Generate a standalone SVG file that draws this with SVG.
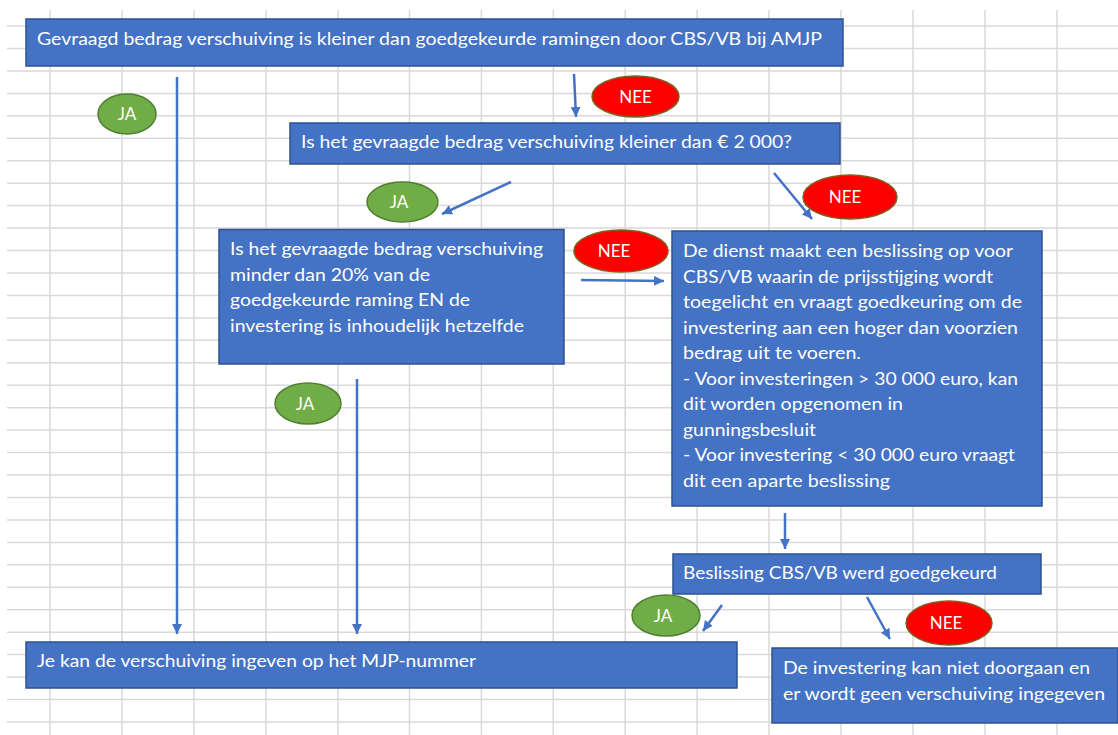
<svg xmlns="http://www.w3.org/2000/svg" width="1118" height="735" viewBox="0 0 1118 735">
<style>
.grid line{stroke:#d9d9d9;stroke-width:1.5}
.box{fill:#4472c4;stroke:#2f528f;stroke-width:1.5}
.t{font-family:Lato,"Open Sans","Liberation Sans",sans-serif;font-size:18px;fill:#ffffff}
.lbl{font-family:Lato,"Open Sans","Liberation Sans",sans-serif;font-size:17px;fill:#ffffff;text-anchor:middle}
.ja{fill:#70ad47;stroke:#507e32;stroke-width:1.5}
.nee{fill:#ff0000;stroke:#7f5f1f;stroke-width:1.5}
.conn path{fill:none;stroke:#4472c4;stroke-width:2.5}
</style>
<defs>
<marker id="ah" viewBox="0 0 10 10" refX="10" refY="5" markerWidth="10" markerHeight="10" markerUnits="userSpaceOnUse" orient="auto">
<path d="M0,0 L10,5 L0,10 z" fill="#4472c4"/>
</marker>
</defs>
<rect width="1118" height="735" fill="#ffffff"/>
<g class="grid">
<line x1="7" y1="26" x2="1118" y2="26"/><line x1="7" y1="48.5" x2="1118" y2="48.5"/><line x1="7" y1="71" x2="1118" y2="71"/><line x1="7" y1="93.4" x2="1118" y2="93.4"/><line x1="7" y1="115.8" x2="1118" y2="115.8"/><line x1="7" y1="138.3" x2="1118" y2="138.3"/><line x1="7" y1="160.7" x2="1118" y2="160.7"/><line x1="7" y1="183.2" x2="1118" y2="183.2"/><line x1="7" y1="205.6" x2="1118" y2="205.6"/><line x1="7" y1="228" x2="1118" y2="228"/><line x1="7" y1="250.5" x2="1118" y2="250.5"/><line x1="7" y1="273" x2="1118" y2="273"/><line x1="7" y1="295.4" x2="1118" y2="295.4"/><line x1="7" y1="317.9" x2="1118" y2="317.9"/><line x1="7" y1="340.3" x2="1118" y2="340.3"/><line x1="7" y1="362.8" x2="1118" y2="362.8"/><line x1="7" y1="385.2" x2="1118" y2="385.2"/><line x1="7" y1="407.7" x2="1118" y2="407.7"/><line x1="7" y1="430.1" x2="1118" y2="430.1"/><line x1="7" y1="452.6" x2="1118" y2="452.6"/><line x1="7" y1="475" x2="1118" y2="475"/><line x1="7" y1="497.5" x2="1118" y2="497.5"/><line x1="7" y1="519.9" x2="1118" y2="519.9"/><line x1="7" y1="542.4" x2="1118" y2="542.4"/><line x1="7" y1="564.8" x2="1118" y2="564.8"/><line x1="7" y1="587.3" x2="1118" y2="587.3"/><line x1="7" y1="609.7" x2="1118" y2="609.7"/><line x1="7" y1="632.2" x2="1118" y2="632.2"/><line x1="7" y1="654.6" x2="1118" y2="654.6"/><line x1="7" y1="677.1" x2="1118" y2="677.1"/><line x1="7" y1="699.5" x2="1118" y2="699.5"/><line x1="7" y1="722" x2="1118" y2="722"/>
<line x1="50" y1="10" x2="50" y2="735"/><line x1="122" y1="10" x2="122" y2="735"/><line x1="194" y1="10" x2="194" y2="735"/><line x1="266" y1="10" x2="266" y2="735"/><line x1="338" y1="10" x2="338" y2="735"/><line x1="409.5" y1="10" x2="409.5" y2="735"/><line x1="481.4" y1="10" x2="481.4" y2="735"/><line x1="553.3" y1="10" x2="553.3" y2="735"/><line x1="625.2" y1="10" x2="625.2" y2="735"/><line x1="697.1" y1="10" x2="697.1" y2="735"/><line x1="769" y1="10" x2="769" y2="735"/><line x1="841" y1="10" x2="841" y2="735"/><line x1="913" y1="10" x2="913" y2="735"/><line x1="985" y1="10" x2="985" y2="735"/><line x1="1057" y1="10" x2="1057" y2="735"/>
</g>
<g class="conn">
<path d="M177,77 L177,634" marker-end="url(#ah)"/>
<path d="M357,379 L357,634" marker-end="url(#ah)"/>
<path d="M574,74 L576,117" marker-end="url(#ah)"/>
<path d="M511,182 L442,214" marker-end="url(#ah)"/>
<path d="M774,173 L812,219" marker-end="url(#ah)"/>
<path d="M581,280 L664,281" marker-end="url(#ah)"/>
<path d="M785,513 L785,549" marker-end="url(#ah)"/>
<path d="M722,605 L703,631" marker-end="url(#ah)"/>
<path d="M867,597 L890,639" marker-end="url(#ah)"/>
</g>
<g id="n1"><rect class="box" x="26" y="19" width="817" height="47"/>
<text class="t" x="37" y="44.5" textLength="785" lengthAdjust="spacingAndGlyphs">Gevraagd bedrag verschuiving is kleiner dan goedgekeurde ramingen door CBS/VB bij AMJP</text></g>
<g id="n2"><rect class="box" x="290" y="123" width="550" height="41"/>
<text class="t" x="301" y="147.5" textLength="491" lengthAdjust="spacingAndGlyphs">Is het gevraagde bedrag verschuiving kleiner dan € 2 000?</text></g>
<g id="n3"><rect class="box" x="219" y="229.5" width="345" height="134.5"/>
<text class="t" x="230" y="255" textLength="313" lengthAdjust="spacingAndGlyphs">Is het gevraagde bedrag verschuiving</text>
<text class="t" x="230" y="280.5" textLength="200" lengthAdjust="spacingAndGlyphs">minder dan 20% van de</text>
<text class="t" x="230" y="306" textLength="240" lengthAdjust="spacingAndGlyphs">goedgekeurde raming EN de</text>
<text class="t" x="230" y="331.5" textLength="294" lengthAdjust="spacingAndGlyphs">investering is inhoudelijk hetzelfde</text></g>
<g id="n4"><rect class="box" x="672" y="231" width="370" height="275"/>
<text class="t" x="683" y="257" textLength="330" lengthAdjust="spacingAndGlyphs">De dienst maakt een beslissing op voor</text>
<text class="t" x="683" y="282.5" textLength="310" lengthAdjust="spacingAndGlyphs">CBS/VB waarin de prijsstijging wordt</text>
<text class="t" x="683" y="308" textLength="339" lengthAdjust="spacingAndGlyphs">toegelicht en vraagt goedkeuring om de</text>
<text class="t" x="683" y="333.5" textLength="335" lengthAdjust="spacingAndGlyphs">investering aan een hoger dan voorzien</text>
<text class="t" x="683" y="359" textLength="178" lengthAdjust="spacingAndGlyphs">bedrag uit te voeren.</text>
<text class="t" x="683" y="384.5" textLength="335" lengthAdjust="spacingAndGlyphs">- Voor investeringen &gt; 30 000 euro, kan</text>
<text class="t" x="683" y="410" textLength="220" lengthAdjust="spacingAndGlyphs">dit worden opgenomen in</text>
<text class="t" x="683" y="435.5" textLength="133" lengthAdjust="spacingAndGlyphs">gunningsbesluit</text>
<text class="t" x="683" y="461" textLength="332" lengthAdjust="spacingAndGlyphs">- Voor investering &lt; 30 000 euro vraagt</text>
<text class="t" x="683" y="486.5" textLength="207" lengthAdjust="spacingAndGlyphs">dit een aparte beslissing</text></g>
<g id="n5"><rect class="box" x="673" y="554" width="368" height="40"/>
<text class="t" x="683" y="578.5" textLength="314" lengthAdjust="spacingAndGlyphs">Beslissing CBS/VB werd goedgekeurd</text></g>
<g id="n6"><rect class="box" x="26" y="642" width="711" height="46"/>
<text class="t" x="37" y="667" textLength="439" lengthAdjust="spacingAndGlyphs">Je kan de verschuiving ingeven op het MJP-nummer</text></g>
<g id="n7"><rect class="box" x="772" y="648" width="346" height="75"/>
<text class="t" x="783" y="674" textLength="307" lengthAdjust="spacingAndGlyphs">De investering kan niet doorgaan en</text>
<text class="t" x="783" y="699.5" textLength="322" lengthAdjust="spacingAndGlyphs">er wordt geen verschuiving ingegeven</text></g>
<g id="ja1"><ellipse class="ja" cx="127" cy="114" rx="29" ry="20"/><text class="lbl" x="127" y="120">JA</text></g>
<g id="nee1"><ellipse class="nee" cx="635.5" cy="96.5" rx="43.5" ry="20.5"/><text class="lbl" x="635.5" y="102.5">NEE</text></g>
<g id="ja2"><ellipse class="ja" cx="402.5" cy="202" rx="35.5" ry="20"/><text class="lbl" x="399" y="208">JA</text></g>
<g id="nee2"><ellipse class="nee" cx="850" cy="197" rx="47" ry="22"/><text class="lbl" x="845" y="203">NEE</text></g>
<g id="nee3"><ellipse class="nee" cx="621" cy="251" rx="47" ry="21"/><text class="lbl" x="614" y="257">NEE</text></g>
<g id="ja3"><ellipse class="ja" cx="308" cy="403.5" rx="33" ry="20.5"/><text class="lbl" x="305" y="409.5">JA</text></g>
<g id="ja4"><ellipse class="ja" cx="666" cy="615.5" rx="34" ry="20.5"/><text class="lbl" x="663" y="621.5">JA</text></g>
<g id="nee4"><ellipse class="nee" cx="949" cy="623" rx="43" ry="22"/><text class="lbl" x="946" y="629">NEE</text></g>
</svg>
